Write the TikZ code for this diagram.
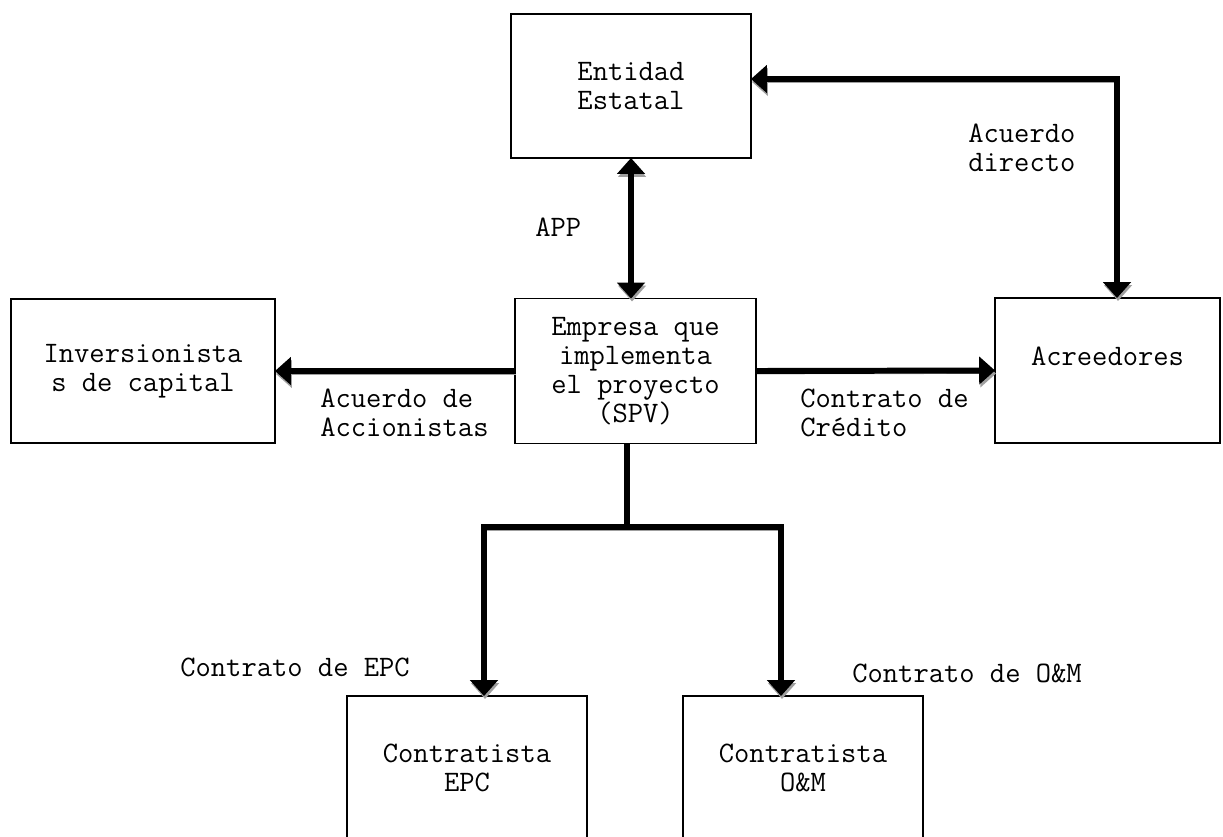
\documentclass[tikz,border=0pt]{standalone}
\usepackage{fontspec}
\usetikzlibrary{arrows.meta}

\tikzset{
  box/.style={draw, line width=1pt, inner sep=0pt, outer sep=0pt, align=center,
    font=\ttfamily\fontsize{16.9}{16.5}\selectfont},
  lbl/.style={inner sep=0pt, anchor=west, align=left,
    font=\ttfamily\fontsize{16.9}{16.5}\selectfont},
  link/.style={line width=3.4pt, >={Triangle[width=15.4pt,length=9pt]},
    preaction={draw=gray!75, transform canvas={xshift=0.6pt,yshift=-1.7pt}}}
}

\begin{document}
\begin{tikzpicture}[x=0.02cm, y=-0.02cm]
\clip (0,0) rectangle (1223,836);

% boxes
\node[box, minimum width=4.8cm, minimum height=2.88cm] (ent) at (631,86) {Entidad\\Estatal};
\node[box, minimum width=4.82cm, minimum height=2.9cm] (spv) at (635.5,371) {Empresa que\\implementa\\el proyecto\\(SPV)};
\node[box, minimum width=5.28cm, minimum height=2.88cm] (inv) at (143,371) {Inversionista\\s de capital};
\node[box, minimum width=4.5cm, minimum height=2.9cm] (acr) at (1107.5,370.5) {Acreedores\\ \mbox{}};
\node[box, minimum width=4.8cm, minimum height=2.86cm] (epc) at (467,767.5) {Contratista\\EPC};
\node[box, minimum width=4.8cm, minimum height=2.86cm] (om) at (803,767.5) {Contratista\\O\&M};

% corners of the connectors
\coordinate (dirc) at (1117,79);
\coordinate (fork) at (627,527);
\coordinate (epcin) at (484,527);
\coordinate (omin) at (781,527);

% connectors
\draw[link, <->] (ent.south) -- (ent.south |- spv.north);
\draw[link, <->] (ent.east |- dirc) -- (dirc) -- (dirc |- acr.north);
\draw[link, ->] (spv.west) -- (inv.east);
\draw[link, ->] (spv.east) -- (acr.west);
\draw[link] (fork |- spv.south) -- (fork);
\draw[link, ->] (fork) -- (epcin) -- (epcin |- epc.north);
\draw[link, ->] (fork) -- (omin) -- (omin |- om.north);

% labels
\node[lbl] (lapp) at (535,227) {APP};
\node[lbl] (ldir) at (968,147.5) {Acuerdo\\directo};
\node[lbl] (lacc) at (320,412.5) {Acuerdo de\\Accionistas};
\node[lbl] (lcre) at (800,412.5) {Contrato de\\Crédito};
\node[lbl] (lepc) at (180,667) {Contrato de EPC};
\node[lbl] (lom) at (852,673) {Contrato de O\&M};
\end{tikzpicture}
\end{document}
